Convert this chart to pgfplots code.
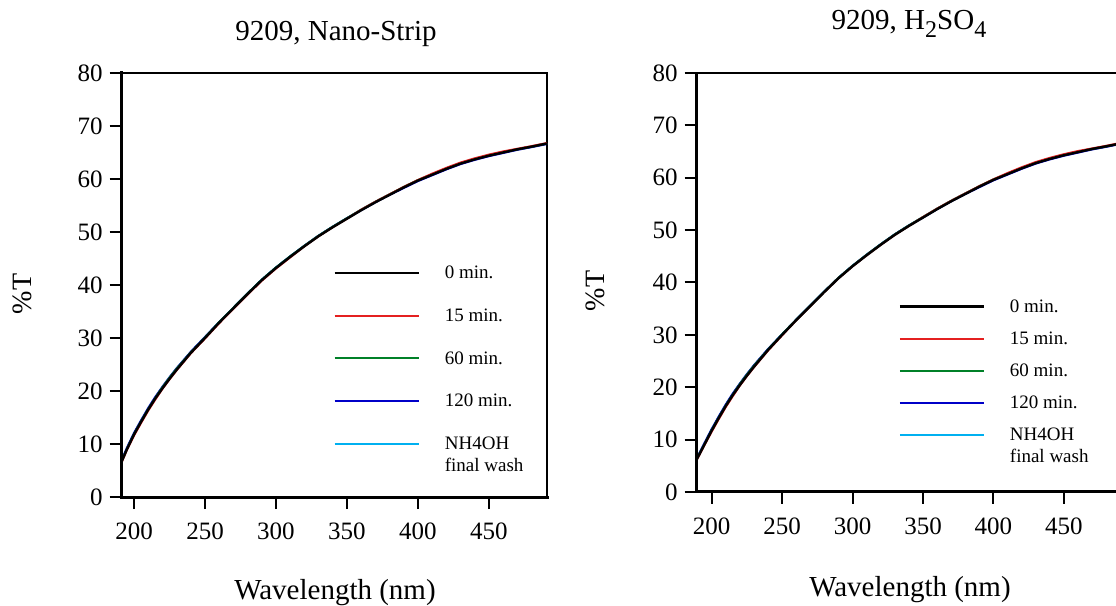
\documentclass[border=0pt]{standalone}
\usepackage{pgfplots}
\pgfplotsset{compat=1.18}
\usepackage{pgfplotstable}
\usepackage{fontspec}
\setmainfont{Liberation Serif}

\definecolor{cred}{RGB}{228,32,32}
\definecolor{cgreen}{RGB}{0,128,40}
\definecolor{cblue}{RGB}{0,0,200}
\definecolor{ccyan}{RGB}{0,176,240}

\pgfplotstableread{
wl   t0    t15   t60   t120  tnh
191  6.5   6.4   6.6   6.8   6.6
195  9.0   8.9   9.1   9.3   9.1
200  11.8  11.6  11.9  12.1  11.9
205  14.2  14.0  14.3  14.5  14.3
210  16.5  16.3  16.6  16.8  16.6
215  18.6  18.4  18.7  18.9  18.7
220  20.5  20.4  20.7  20.8  20.6
225  22.3  22.2  22.5  22.6  22.4
230  24.0  23.9  24.2  24.3  24.1
240  27.2  27.1  27.3  27.4  27.3
250  30.0  29.9  30.1  30.2  30.1
260  32.9  32.8  33.0  33.0  33.0
270  35.6  35.5  35.7  35.7  35.7
280  38.3  38.2  38.4  38.4  38.4
290  40.9  40.8  41.0  41.0  41.0
300  43.2  43.1  43.3  43.3  43.3
310  45.3  45.2  45.4  45.4  45.4
320  47.3  47.3  47.4  47.4  47.4
330  49.2  49.2  49.3  49.3  49.3
340  50.9  50.9  51.0  51.0  51.0
350  52.5  52.5  52.6  52.6  52.6
360  54.1  54.2  54.2  54.1  54.2
370  55.6  55.7  55.7  55.6  55.7
380  57.0  57.1  57.1  57.0  57.1
390  58.4  58.5  58.5  58.3  58.4
400  59.7  59.8  59.8  59.6  59.7
410  60.8  61.0  60.9  60.7  60.8
420  61.9  62.1  62.0  61.8  61.9
430  62.9  63.1  63.0  62.8  62.9
440  63.7  63.9  63.8  63.6  63.7
450  64.4  64.6  64.5  64.3  64.4
460  65.0  65.2  65.1  64.9  65.0
470  65.6  65.7  65.6  65.5  65.6
480  66.1  66.2  66.1  66.0  66.1
491  66.7  66.8  66.7  66.6  66.7
}\datA

\pgfplotstableread{
wl   t0    t15   t60   t120  tnh
189  6.0   5.9   6.1   6.2   6.1
195  9.1   9.0   9.2   9.4   9.2
200  11.7  11.5  11.8  12.0  11.9
205  14.1  13.9  14.2  14.4  14.3
210  16.4  16.2  16.5  16.7  16.6
215  18.5  18.3  18.6  18.8  18.7
220  20.4  20.3  20.6  20.7  20.6
225  22.2  22.1  22.4  22.5  22.4
230  23.9  23.8  24.1  24.2  24.0
240  27.1  27.0  27.2  27.3  27.2
250  30.0  29.9  30.1  30.1  30.1
260  32.8  32.8  32.9  32.9  32.9
270  35.5  35.5  35.6  35.6  35.6
280  38.2  38.2  38.3  38.3  38.3
290  40.8  40.8  40.9  40.9  40.9
300  43.1  43.1  43.2  43.2  43.2
310  45.2  45.2  45.3  45.3  45.3
320  47.2  47.2  47.3  47.3  47.3
330  49.1  49.1  49.2  49.2  49.2
340  50.8  50.8  50.9  50.9  50.9
350  52.4  52.5  52.5  52.4  52.5
360  54.0  54.1  54.1  54.0  54.1
370  55.5  55.6  55.6  55.5  55.6
380  56.9  57.0  57.0  56.9  57.0
390  58.3  58.4  58.4  58.2  58.3
400  59.6  59.7  59.7  59.5  59.6
410  60.7  60.9  60.8  60.6  60.7
420  61.8  62.0  61.9  61.7  61.8
430  62.8  63.0  62.9  62.7  62.8
440  63.6  63.8  63.7  63.5  63.6
450  64.3  64.5  64.4  64.2  64.3
460  64.9  65.1  65.0  64.8  64.9
470  65.5  65.6  65.5  65.4  65.5
480  66.0  66.1  66.0  65.9  66.0
491  66.6  66.7  66.6  66.5  66.6
}\datB

\newcommand{\nhentry}{\makebox[0pt][l]{\raisebox{-11pt}[0pt][0pt]{final wash}}NH4OH}

\pgfplotsset{
  myaxis/.style={
    scale only axis, anchor=south west,
    ymin=0, ymax=80,
    xtick={200,250,...,450}, ytick={0,10,...,80},
    tick align=outside, xtick pos=left, ytick pos=left,
    major tick length=6pt,
    every tick/.style={line width=1pt, black},
    axis line style={line width=1pt},
    minor tick num=0,
    tick label style={font=\fontsize{12.5}{14}\selectfont},
    xticklabel style={yshift=-3.5pt},
    /pgf/number format/assume math mode=true,
    /pgf/number format/1000 sep={},
    legend cell align=left,
    reverse legend,
    legend image code/.code={\draw[##1] (0pt,0.5pt) -- (42pt,0.5pt);},
    after end axis/.code={\draw[line width=1.5pt,line cap=rect] (rel axis cs:0,1) -- (rel axis cs:0,0) -- (rel axis cs:1,0);},
  }
}

\begin{document}
\begin{tikzpicture}
\useasboundingbox (0,0) rectangle (558pt,303pt);

\begin{axis}[myaxis,
  at={(60.85pt,54.5pt)}, width=212.65pt, height=212pt,
  xmin=191.3, xmax=491,
  legend style={at={(0.497,0.545)}, anchor=north west, draw=none, fill=none,
    font=\fontsize{9.5}{11}\selectfont, row sep=13.5pt, inner sep=0pt,
    nodes={inner sep=0pt},
    /tikz/every odd column/.append style={column sep=12.5pt}},
]
\addplot[ccyan, line width=1pt] table[x=wl,y=tnh]{\datA};
\addlegendentry{\nhentry}
\addplot[cblue, line width=1pt] table[x=wl,y=t120]{\datA};
\addlegendentry{120 min.}
\addplot[cgreen, line width=1pt] table[x=wl,y=t60]{\datA};
\addlegendentry{60 min.}
\addplot[cred, line width=1pt] table[x=wl,y=t15]{\datA};
\addlegendentry{15 min.}
\addplot[black, line width=1.2pt] table[x=wl,y=t0]{\datA};
\addlegendentry{0 min.}
\end{axis}

\begin{axis}[myaxis,
  at={(348.35pt,57pt)}, width=212.5pt, height=209.5pt,
  xmin=189.4, xmax=491,
  legend style={at={(0.474,0.46)}, anchor=north west, draw=none, fill=none,
    font=\fontsize{9.5}{11}\selectfont, row sep=8.25pt, inner sep=0pt,
    nodes={inner sep=0pt},
    /tikz/every odd column/.append style={column sep=12.5pt}},
]
\addplot[ccyan, line width=1pt] table[x=wl,y=tnh]{\datB};
\addlegendentry{\nhentry}
\addplot[cblue, line width=1pt] table[x=wl,y=t120]{\datB};
\addlegendentry{120 min.}
\addplot[cgreen, line width=1pt] table[x=wl,y=t60]{\datB};
\addlegendentry{60 min.}
\addplot[cred, line width=1pt] table[x=wl,y=t15]{\datB};
\addlegendentry{15 min.}
\addplot[black, line width=1.2pt] table[x=wl,y=t0]{\datB};
\addlegendentry{0 min.}
\end{axis}

\node[anchor=base, font=\fontsize{14.5}{16}\selectfont] at (168pt,282.5pt) {9209, Nano-Strip};
\node[anchor=base, font=\fontsize{14.5}{16}\selectfont] at (454.5pt,288pt) {9209, H\raisebox{-4pt}{\fontsize{12}{14}\selectfont 2}SO\raisebox{-4pt}{\fontsize{12}{14}\selectfont 4}};
\node[rotate=90, font=\fontsize{14}{16}\selectfont] at (11pt,156pt) {\%T};
\node[rotate=90, font=\fontsize{14}{16}\selectfont] at (297.75pt,157.5pt) {\%T};
\node[anchor=base, font=\fontsize{14.5}{16}\selectfont] at (167.5pt,3pt) {Wavelength (nm)};
\node[anchor=base, font=\fontsize{14.5}{16}\selectfont] at (455pt,4.5pt) {Wavelength (nm)};
\end{tikzpicture}
\end{document}
